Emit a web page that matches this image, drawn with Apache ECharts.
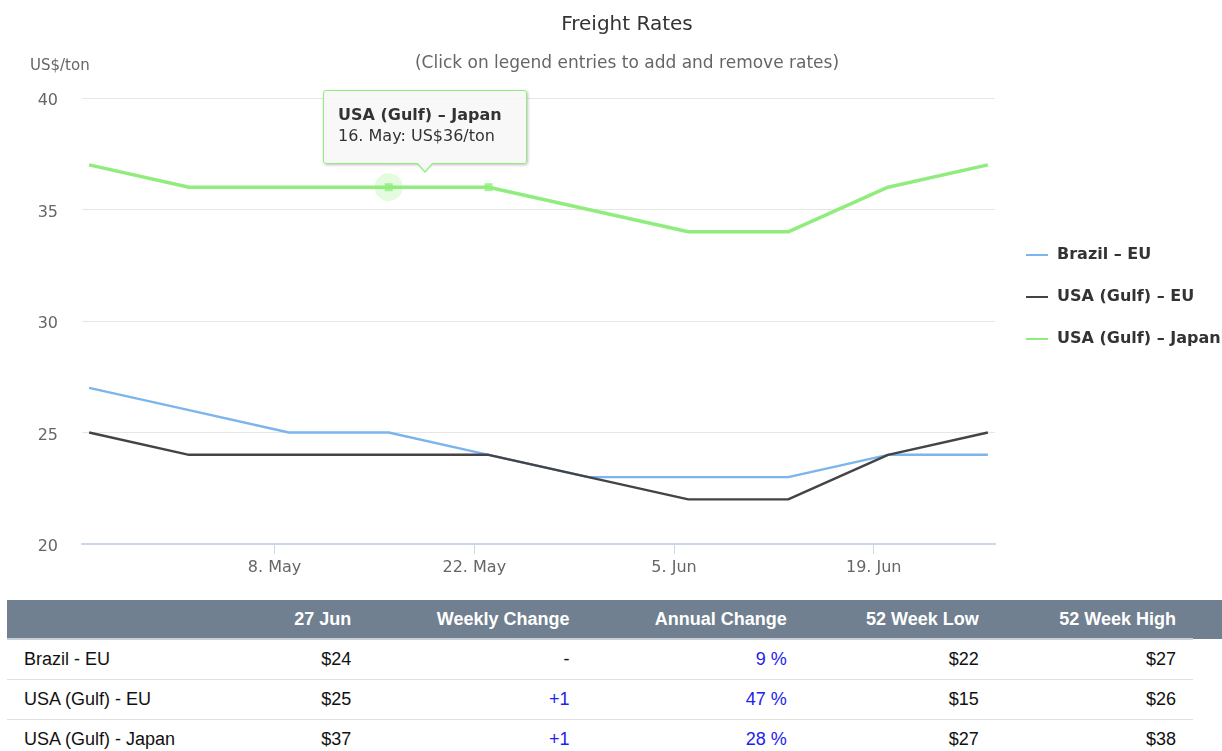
<!DOCTYPE html>
<html>
<head>
<meta charset="utf-8">
<title>Freight Rates</title>
<script src="https://cdn.jsdelivr.net/npm/echarts@6/dist/echarts.min.js"></script>
<style>
    body { margin: 0; background: #fff; overflow: hidden; }
    #freight_rates { width: 1254px; height: 598px; }
    .rates-table {
        position: absolute; left: 7px; top: 600px;
        width: 1186px; border-collapse: collapse;
        font-family: "Liberation Sans", Arial, sans-serif; font-size: 18px; color: #111;
    }
    .rates-table th {
        background: #708090; color: #fff; font-weight: bold;
        height: 38px; padding: 0 17px; text-align: right;
        border-bottom: 2px solid #c9d0d7;
    }
    .rates-table th:last-child { box-shadow: 29px 0 0 #708090; }
    .rates-table td {
        height: 39px; padding: 0 17px; text-align: right;
        border-bottom: 1px solid #e0e0e0;
    }
    .rates-table td:first-child { text-align: left; }
    .rates-table .change { color: #2222ee; }
    .hc-tip::before, .hc-tip::after {
        content: ''; position: absolute; left: 50%;
        border-left-style: solid; border-right-style: solid; border-top-style: solid;
        border-left-color: transparent; border-right-color: transparent;
    }
    .hc-tip::before { bottom: -10px; margin-left: -9px; border-width: 10px 9px 0 9px; border-top-color: #90ed7d; }
    .hc-tip::after { bottom: -8px; margin-left: -8px; border-width: 9px 8px 0 8px; border-top-color: #f7f7f7; }
</style>
</head>
<body>
<div id="freight_rates"></div>
<table class="rates-table" id="rates_table"></table>

<script>
// Weekly freight rates, US$/ton
var dates = ['2017-04-25', '2017-05-02', '2017-05-09', '2017-05-16', '2017-05-23',
             '2017-05-30', '2017-06-06', '2017-06-13', '2017-06-20', '2017-06-27'];
var tickDates = ['2017-05-08', '2017-05-22', '2017-06-05', '2017-06-19'];
var seriesNames = ['Brazil – EU', 'USA (Gulf) – EU', 'USA (Gulf) – Japan'];
var brazilEU = [27, 26, 25, 25, 24, 23, 23, 23, 24, 24];
var usaGulfEU = [25, 24, 24, 24, 24, 23, 22, 22, 24, 25];
var usaGulfJapan = [37, 36, 36, 36, 36, 35, 34, 34, 36, 37];
var yTicks = [20, 25, 30, 35, 40];

// Table below the chart
var tableHeader = ['', '27 Jun', 'Weekly Change', 'Annual Change', '52 Week Low', '52 Week High'];
var routes = ['Brazil - EU', 'USA (Gulf) - EU', 'USA (Gulf) - Japan'];
var latestRate = ['$24', '$25', '$37'];
var weeklyChange = ['-', '+1', '+1'];
var annualChange = ['9 %', '47 %', '28 %'];
var weekLow52 = ['$22', '$15', '$27'];
var weekHigh52 = ['$27', '$26', '$38'];

var months = ['Jan', 'Feb', 'Mar', 'Apr', 'May', 'Jun', 'Jul', 'Aug', 'Sep', 'Oct', 'Nov', 'Dec'];
var ts = function(s) { return Date.parse(s + 'T00:00:00Z'); };
var fmtDate = function(v) {
    var d = new Date(v);
    return d.getUTCDate() + '. ' + months[d.getUTCMonth()];
};
var halfDay = 12 * 3600 * 1000;

var colors = ['#7cb5ec', '#434348', '#90ed7d'];
var values = [brazilEU, usaGulfEU, usaGulfJapan];
var hoverIndex = 3;

var chartEl = document.getElementById('freight_rates');
var chart = echarts.init(chartEl, null, { renderer: 'canvas' });

var lineSeries = values.map(function(arr, s) {
    return {
        name: seriesNames[s],
        type: 'line',
        data: dates.map(function(d, i) { return [ts(d), arr[i]]; }),
        showSymbol: false,
        symbol: 'circle',
        color: colors[s],
        lineStyle: { width: s === 2 ? 3.5 : 2.4, color: colors[s] },
        emphasis: { disabled: true },
        z: 2 + s
    };
});

var fontFamily = '"DejaVu Sans", sans-serif';

chart.setOption({
    animation: false,
    textStyle: { fontFamily: fontFamily },
    title: [
        {
            text: 'Freight Rates', left: 'center', top: 15, padding: 0,
            textStyle: { fontSize: 20, fontWeight: 'normal', color: '#333333', fontFamily: fontFamily }
        },
        {
            text: '(Click on legend entries to add and remove rates)', left: 'center', top: 55, padding: 0,
            textStyle: { fontSize: 17, fontWeight: 'normal', color: '#666666', fontFamily: fontFamily }
        },
        {
            text: 'US$/ton', left: 30, top: 59, padding: 0,
            textStyle: { fontSize: 15, fontWeight: 'normal', color: '#666666', fontFamily: fontFamily }
        }
    ],
    legend: {
        data: seriesNames,
        orient: 'vertical',
        left: 1026, top: 245, padding: 0,
        icon: 'rect', itemWidth: 22, itemHeight: 2, itemGap: 22,
        textStyle: { fontSize: 16, fontWeight: 'bold', color: '#333333', lineHeight: 20, padding: [0, 0, 0, 4], fontFamily: fontFamily }
    },
    tooltip: {
        trigger: 'item',
        triggerOn: 'none',
        alwaysShowContent: true,
        transitionDuration: 0,
        className: 'hc-tip',
        backgroundColor: 'rgba(247,247,247,0.85)',
        borderColor: '#90ed7d',
        borderWidth: 1,
        borderRadius: 3,
        padding: [13, 14, 17, 14],
        extraCssText: 'width:174px;box-shadow:1px 1px 3px rgba(0,0,0,0.25);',
        textStyle: { fontFamily: fontFamily, fontSize: 16, color: '#333333' },
        position: function() {
            var p = chart.convertToPixel({ gridIndex: 0 }, [ts(dates[hoverIndex]), usaGulfJapan[hoverIndex]]);
            return [p[0] - 66, p[1] - 97];
        },
        formatter: function(params) {
            return '<div style="line-height:21px;font-weight:bold">' + seriesNames[2] + '</div>' +
                   '<div style="line-height:21px">' + fmtDate(params.value[0]) + ': US$' + params.value[1] + '/ton</div>';
        }
    },
    grid: { left: 82, top: 98, width: 913, height: 446, containLabel: false },
    xAxis: {
        type: 'value',
        min: ts(dates[0]) - halfDay,
        max: ts(dates[dates.length - 1]) + halfDay,
        axisLine: { show: true, lineStyle: { color: '#ccd6eb', width: 2 } },
        axisTick: {
            show: true, length: 10, inside: false,
            customValues: tickDates.map(ts),
            lineStyle: { color: '#ccd6eb' }
        },
        axisLabel: {
            customValues: tickDates.map(ts),
            formatter: fmtDate,
            margin: 16,
            fontSize: 16, color: '#666666', fontFamily: fontFamily
        },
        splitLine: { show: false }
    },
    yAxis: {
        type: 'value',
        min: yTicks[0], max: yTicks[yTicks.length - 1], interval: 5,
        axisLine: { show: false },
        axisTick: { show: false },
        axisLabel: { margin: 24, verticalAlign: 'top', lineHeight: 6, fontSize: 16, color: '#666666', fontFamily: fontFamily },
        splitLine: { lineStyle: { color: '#e6e6e6', width: 1 } }
    },
    series: lineSeries.concat([
        {
            name: seriesNames[2],
            type: 'scatter',
            silent: true,
            symbol: 'circle',
            symbolSize: 28,
            itemStyle: { color: 'rgba(144,237,125,0.3)' },
            data: [[ts(dates[hoverIndex]), usaGulfJapan[hoverIndex]]],
            z: 1
        },
        {
            // hovered point markers; the tooltip is anchored on the first one
            name: seriesNames[2],
            type: 'scatter',
            symbol: 'rect',
            symbolSize: 8,
            itemStyle: { color: colors[2] },
            emphasis: { disabled: true },
            data: [hoverIndex, hoverIndex + 1].map(function(i) { return [ts(dates[i]), usaGulfJapan[i]]; }),
            z: 6
        }
    ])
});

chart.dispatchAction({ type: 'showTip', seriesIndex: 4, dataIndex: 0 });

// Build the table
var rows = '<tr>' + tableHeader.map(function(h) { return '<th>' + h + '</th>'; }).join('') + '</tr>';
routes.forEach(function(r, i) {
    rows += '<tr><td>' + r + '</td><td>' + latestRate[i] + '</td>' +
        '<td class="' + (weeklyChange[i] === '-' ? '' : 'change') + '">' + weeklyChange[i] + '</td>' +
        '<td class="change">' + annualChange[i] + '</td>' +
        '<td>' + weekLow52[i] + '</td><td>' + weekHigh52[i] + '</td></tr>';
});
document.getElementById('rates_table').innerHTML = rows;

window.addEventListener('resize', function() { chart.resize(); });
</script>
</body>
</html>
